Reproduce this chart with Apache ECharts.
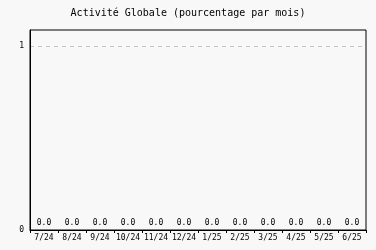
<!DOCTYPE html>
<html>
<head>
<meta charset="utf-8">
<script src="https://cdn.jsdelivr.net/npm/echarts@6/dist/echarts.min.js"></script>
<style>
html, body { margin: 0; padding: 0; background: #f8f8f8; }
#chart { width: 376px; height: 250px; }
</style>
</head>
<body>
<div id="chart"></div>
<script>
// Monthly activity, share per month
const months = ['7/24', '8/24', '9/24', '10/24', '11/24', '12/24', '1/25', '2/25', '3/25', '4/25', '5/25', '6/25'];
const activity = [0, 0, 0, 0, 0, 0, 0, 0, 0, 0, 0, 0];
const yTicks = [0, 1];
// headroom above the top tick
const yMax = 1.087;

const mono = '"DejaVu Sans Mono", monospace';
const chart = echarts.init(document.getElementById('chart'), null, { renderer: 'canvas' });
chart.setOption({
  backgroundColor: '#f8f8f8',
  animation: false,
  title: {
    text: 'Activité Globale (pourcentage par mois)',
    left: 'center',
    top: 3,
    textStyle: { fontFamily: mono, fontSize: 10, fontWeight: 'normal', color: '#000' }
  },
  grid: {
    left: 30, right: 10, top: 30, bottom: 20,
    show: true, borderColor: '#000', borderWidth: 1, backgroundColor: '#f8f8f8'
  },
  xAxis: {
    type: 'category',
    data: months,
    axisLine: { lineStyle: { color: '#000', width: 1 } },
    axisTick: { show: true, length: 3, lineStyle: { color: '#000' } },
    axisLabel: { fontFamily: mono, fontSize: 8, color: '#000', margin: 4, interval: 0 }
  },
  yAxis: {
    type: 'value',
    min: yTicks[0],
    max: yMax,
    interval: 1,
    axisLine: { show: true, lineStyle: { color: '#000', width: 1 } },
    axisTick: { show: false },
    axisLabel: {
      fontFamily: mono, fontSize: 8, color: '#000', margin: 6,
      showMaxLabel: false,
      formatter: v => (yTicks.indexOf(v) >= 0 ? String(v) : '')
    },
    splitLine: {
      show: true, showMaxLine: false,
      lineStyle: { color: '#c4c4c4', type: [4, 4] }
    }
  },
  series: [{
    type: 'bar',
    data: activity,
    barWidth: '60%',
    itemStyle: { color: '#4a7ebb' },
    label: {
      show: true,
      position: 'top',
      distance: 3,
      fontFamily: mono,
      fontSize: 8,
      color: '#000',
      formatter: p => p.value.toFixed(1)
    }
  }]
});
</script>
</body>
</html>
